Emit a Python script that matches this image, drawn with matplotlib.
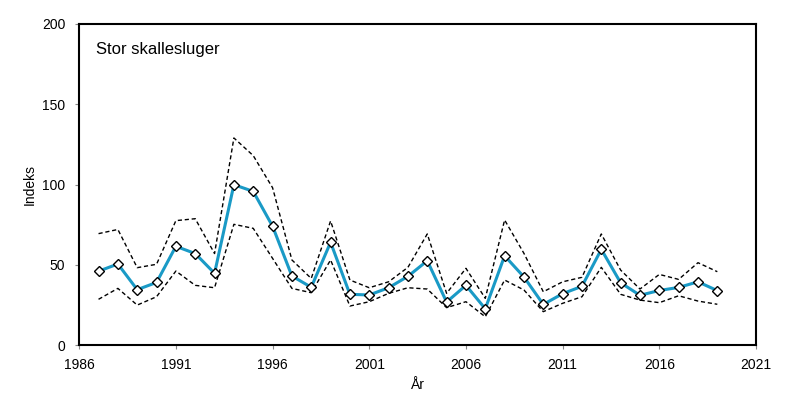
import matplotlib.pyplot as plt
import numpy as np

plt.rcParams['font.family'] = ['Liberation Sans', 'DejaVu Sans']

years = np.arange(1987, 2020)
index = [46, 50.5, 34.5, 39, 61.5, 57, 44.7, 99.9, 95.7, 74, 43, 36,
         64, 31.6, 31.2, 35.7, 42.8, 52.5, 26.8, 37.2, 22.6, 55.6, 42.4, 25.3,
         32, 36.6, 59.6, 38.8, 31, 34, 35.9, 39.4, 33.9]
upper = [69.4, 72, 48.2, 50.3, 77.5, 78.7, 57, 129, 118, 98, 53, 41.5,
         77.3, 40.5, 35.7, 39.4, 48.4, 69.2, 32.2, 47.8, 29.1, 77.9, 57.1, 33.2,
         39.4, 42.2, 69.2, 46.7, 34.9, 44, 40.9, 51.3, 45.7]
lower = [28.5, 35.3, 24.9, 30.1, 46.1, 37.2, 35.7, 75.2, 72.7, 54, 35.3, 32.6,
         53, 24.3, 27, 32.2, 35.7, 34.9, 23.3, 27, 17.6, 40.5, 34.3, 20.8,
         26, 30.1, 48.4, 31.6, 28, 26.4, 30.7, 27.4, 25.4]

fig = plt.figure(figsize=(8, 3.93), dpi=100)
ax = fig.add_axes([0.099, 0.122, 0.846, 0.817])

ax.plot(years, upper, color='black', linestyle=(0, (3, 2)), linewidth=1)
ax.plot(years, lower, color='black', linestyle=(0, (3, 2)), linewidth=1)
ax.plot(years, index, color='#1a9ac6', linewidth=2.2,
        marker='D', markersize=5, markerfacecolor='white',
        markeredgecolor='black', markeredgewidth=1)

ax.set_xlim(1986, 2021)
ax.set_ylim(0, 200)
ax.set_xticks(np.arange(1986, 2022, 5))
ax.set_yticks(np.arange(0, 201, 50))
ax.tick_params(direction='out', length=3, width=0.8, color='#888888',
               labelsize=10)
ax.tick_params(axis='x', pad=6)
ax.tick_params(axis='y', pad=7)
for s in ax.spines.values():
    s.set_linewidth(1.5)

ax.set_xlabel("År", fontsize=10, labelpad=5)
ax.set_ylabel("Indeks", fontsize=10)
ax.text(0.025, 0.92, "Stor skallesluger", transform=ax.transAxes,
        fontsize=12, va='center', ha='left')

plt.savefig("out.png")
